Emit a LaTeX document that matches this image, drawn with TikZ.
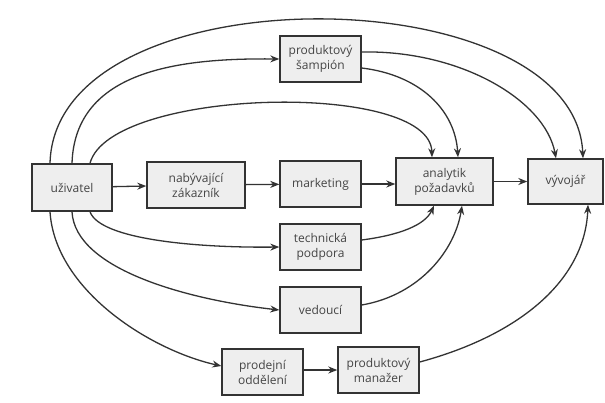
\documentclass[tikz,border=0pt]{standalone}
\usepackage{fontspec}
\setmainfont{Open Sans}
\usetikzlibrary{arrows.meta,calc}
\definecolor{ink}{HTML}{333333}
\definecolor{boxfill}{HTML}{EEEEEE}
\definecolor{txt}{HTML}{444444}
\tikzset{
  box/.style={draw=ink, line width=1.4pt, fill=boxfill, text=txt,
    align=center, inner sep=0pt, font=\fontsize{12}{15}\selectfont},
  conn/.style={draw=ink, line width=1.3pt, -{Stealth[length=9pt,width=7pt]}},
}
\begin{document}
\begin{tikzpicture}[x=1pt,y=-1pt]
\fill[white] (0,0) rectangle (605,402);
\useasboundingbox (0,0) rectangle (605,402);

\node[box, minimum width=80pt, minimum height=47pt] (u)   at (72,187.5)  {uživatel};
\node[box, minimum width=98pt, minimum height=46pt] (nab) at (196,185)   {nabývající\\zákazník};
\node[box, minimum width=81pt, minimum height=46pt] (mkt) at (320.5,184) {marketing};
\node[box, minimum width=97pt, minimum height=47pt] (an)  at (444.5,181.5) {analytik\\požadavků};
\node[box, minimum width=75pt, minimum height=45pt] (vyv) at (565.5,181.5) {vývojář};
\node[box, minimum width=81pt, minimum height=46pt] (sam) at (320.5,59)  {produktový\\šampión};
\node[box, minimum width=81pt, minimum height=46pt] (tech) at (320.5,247) {technická\\podpora};
\node[box, minimum width=81pt, minimum height=46pt] (ved) at (320.5,310) {vedoucí};
\node[box, minimum width=81pt, minimum height=46pt] (prod) at (262.5,372) {prodejní\\oddělení};
\node[box, minimum width=81pt, minimum height=46pt] (man) at (378.5,370) {produktový\\manažer};

% straight connectors
\draw[conn] (u) -- (nab);
\draw[conn] (nab) -- (mkt);
\draw[conn] (mkt.east) -- (an.west |- mkt.east);
\draw[conn] (an) -- (vyv.west |- an.east);
\draw[conn] (prod.east |- man.west) -- (man.west);

% upper arcs
\draw[conn] ([xshift=-22pt]u.north) .. controls (55,-30) and (575,-25) .. ([xshift=17.5pt]vyv.north);
\draw[conn] (u.north) .. controls (75,70) and (180,58) .. (sam.west);
\draw[conn] ([xshift=18pt]u.north) .. controls (110,88) and (430,80) .. ([xshift=-12.5pt]an.north);
\draw[conn] ([yshift=7pt]sam.east) .. controls (460,50) and (545,100) .. ([xshift=-9.5pt]vyv.north);
\draw[conn] ([yshift=-9pt]sam.east) .. controls (420,75) and (455,110) .. ([xshift=13.5pt]an.north);

% lower arcs
\draw[conn] ([xshift=18pt]u.south) .. controls (100,240) and (200,248) .. (tech.west);
\draw[conn] (u.south) .. controls (75,270) and (190,300) .. (ved.west);
\draw[conn] ([xshift=-22pt]u.south) .. controls (55,290) and (150,350) .. ([yshift=6pt]prod.west);
\draw[conn] ([yshift=7pt]tech.east) .. controls (400,235) and (425,225) .. ([xshift=-10.5pt]an.south);
\draw[conn] ([yshift=5pt]ved.east) .. controls (420,295) and (455,250) .. ([xshift=17.5pt]an.south);
\draw[conn] ([yshift=8pt]man.east) .. controls (520,335) and (585,280) .. ([xshift=22.5pt]vyv.south);
\end{tikzpicture}
\end{document}
